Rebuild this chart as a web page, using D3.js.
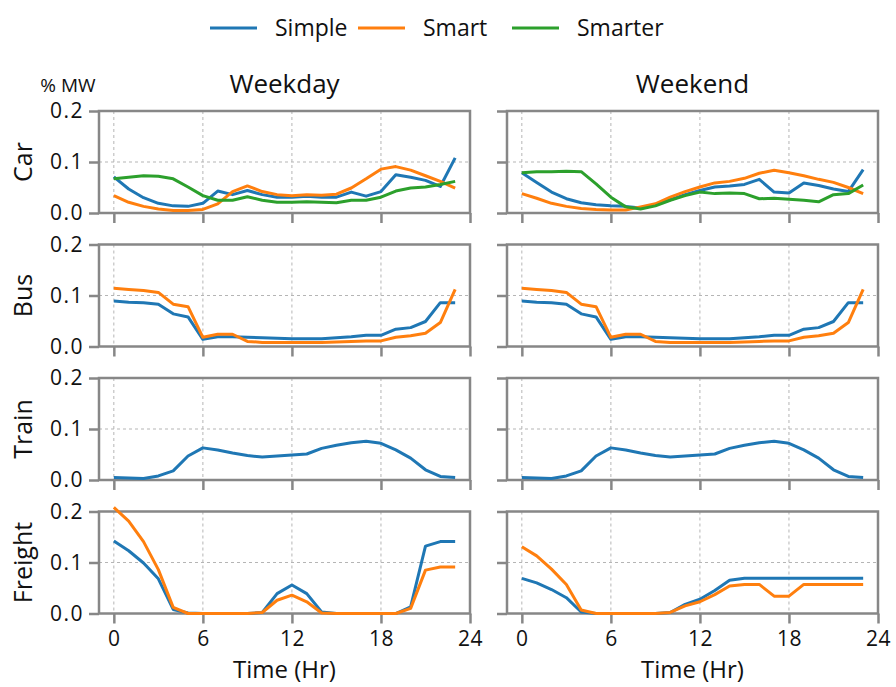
<!DOCTYPE html>
<html>
<head>
<meta charset="utf-8">
<script src="https://cdn.jsdelivr.net/npm/d3@7"></script>
<style>
    body { margin: 0; background: #fff; }
    svg { font-family: "Open Sans", "Noto Sans", sans-serif; }
</style>
</head>
<body>
<svg id="chart" width="896" height="687"></svg>
<script>
// Hours of the day
const hours = d3.range(0, 24);

const seriesNames = ['Simple', 'Smart', 'Smarter'];
const seriesColors = ['#1f77b4', '#ff7f0e', '#2ca02c'];
const dayTypes = ['Weekday', 'Weekend'];
const modes = ['Car', 'Bus', 'Train', 'Freight'];
const xTicks = [0, 6, 12, 18, 24];
const yTicks = [0.0, 0.1, 0.2];

// Car
const carWeekdaySimple = [0.071, 0.047, 0.030, 0.019, 0.014, 0.013, 0.019, 0.043, 0.036, 0.044, 0.036, 0.031,
    0.031, 0.033, 0.031, 0.031, 0.041, 0.033, 0.042, 0.075, 0.070, 0.064, 0.052, 0.108];
const carWeekdaySmart = [0.034, 0.021, 0.013, 0.008, 0.005, 0.005, 0.007, 0.018, 0.042, 0.053, 0.042, 0.036,
    0.034, 0.036, 0.035, 0.037, 0.049, 0.067, 0.086, 0.091, 0.084, 0.073, 0.062, 0.049];
const carWeekdaySmarter = [0.067, 0.070, 0.073, 0.072, 0.067, 0.051, 0.034, 0.025, 0.025, 0.032, 0.025, 0.021,
    0.021, 0.022, 0.021, 0.020, 0.025, 0.025, 0.031, 0.043, 0.049, 0.051, 0.056, 0.062];
const carWeekendSimple = [0.079, 0.060, 0.041, 0.028, 0.020, 0.016, 0.014, 0.013, 0.010, 0.016, 0.026, 0.036,
    0.044, 0.051, 0.053, 0.056, 0.066, 0.041, 0.039, 0.059, 0.054, 0.047, 0.042, 0.085];
const carWeekendSmart = [0.038, 0.029, 0.019, 0.013, 0.009, 0.007, 0.006, 0.006, 0.012, 0.018, 0.031, 0.042,
    0.051, 0.059, 0.062, 0.068, 0.078, 0.084, 0.079, 0.073, 0.066, 0.060, 0.050, 0.038];
const carWeekendSmarter = [0.079, 0.081, 0.081, 0.082, 0.081, 0.057, 0.031, 0.012, 0.008, 0.014, 0.025, 0.034,
    0.041, 0.038, 0.039, 0.038, 0.028, 0.029, 0.027, 0.025, 0.022, 0.036, 0.038, 0.055];

// Bus (weekday and weekend profiles are the same)
const busSimple = [0.089, 0.087, 0.086, 0.083, 0.064, 0.058, 0.014, 0.019, 0.019, 0.018, 0.017, 0.016,
    0.015, 0.015, 0.015, 0.017, 0.019, 0.022, 0.022, 0.034, 0.037, 0.049, 0.086, 0.086];
const busSmart = [0.114, 0.112, 0.110, 0.106, 0.083, 0.078, 0.018, 0.024, 0.024, 0.010, 0.008, 0.008,
    0.008, 0.008, 0.008, 0.009, 0.010, 0.011, 0.011, 0.018, 0.021, 0.026, 0.047, 0.112];

// Train (same for both day types)
const trainSimple = [0.005, 0.004, 0.003, 0.008, 0.018, 0.047, 0.063, 0.059, 0.053, 0.048, 0.045, 0.047,
    0.049, 0.051, 0.062, 0.068, 0.073, 0.076, 0.072, 0.059, 0.043, 0.020, 0.007, 0.005];

// Freight
const freightWeekdaySimple = [0.142, 0.123, 0.099, 0.068, 0.008, 0.001, 0, 0, 0, 0, 0.002, 0.039,
    0.056, 0.039, 0.003, 0, 0, 0, 0, 0, 0.013, 0.132, 0.141, 0.141];
const freightWeekdaySmart = [0.208, 0.181, 0.141, 0.086, 0.012, 0, 0, 0, 0, 0, 0.002, 0.026,
    0.036, 0.023, 0.001, 0, 0, 0, 0, 0, 0.010, 0.085, 0.091, 0.091];
const freightWeekendSimple = [0.069, 0.060, 0.047, 0.031, 0.003, 0, 0, 0, 0, 0, 0.002, 0.018,
    0.028, 0.045, 0.065, 0.069, 0.069, 0.069, 0.069, 0.069, 0.069, 0.069, 0.069, 0.069];
const freightWeekendSmart = [0.131, 0.113, 0.087, 0.057, 0.007, 0, 0, 0, 0, 0, 0.002, 0.015,
    0.023, 0.037, 0.054, 0.057, 0.057, 0.034, 0.034, 0.057, 0.057, 0.057, 0.057, 0.057];

// panel lookup: mode -> day type -> list of series (index into seriesNames)
const panels = {
    Car: {
        Weekday: [carWeekdaySimple, carWeekdaySmart, carWeekdaySmarter],
        Weekend: [carWeekendSimple, carWeekendSmart, carWeekendSmarter]
    },
    Bus: {
        Weekday: [busSimple, busSmart],
        Weekend: [busSimple, busSmart]
    },
    Train: {
        Weekday: [trainSimple],
        Weekend: [trainSimple]
    },
    Freight: {
        Weekday: [freightWeekdaySimple, freightWeekdaySmart],
        Weekend: [freightWeekendSimple, freightWeekendSmart]
    }
};

const svg = d3.select('#chart');

const spineColor = '#878787';
const gridColor = '#b5b5b5';
const colLeft = [99, 507];
const colWidth = 371;
const rowTop = [111, 244.5, 378, 511.5];
const rowHeight = 102;

// Legend
const legendX = [210, 358, 512];
const legend = svg.append('g').attr('class', 'legend');
seriesNames.forEach((name, i) => {
    legend.append('line')
        .attr('x1', legendX[i]).attr('x2', legendX[i] + 47)
        .attr('y1', 28).attr('y2', 28)
        .attr('stroke', seriesColors[i])
        .attr('stroke-width', 3);
    legend.append('text')
        .attr('x', legendX[i] + 65)
        .attr('y', 36)
        .attr('font-size', 23)
        .attr('fill', '#111')
        .text(name);
});

// unit label
svg.append('text')
    .attr('x', 68)
    .attr('y', 92)
    .attr('text-anchor', 'middle')
    .attr('font-size', 19)
    .attr('fill', '#111')
    .text('% MW');

dayTypes.forEach((day, c) => {
    const x = d3.scaleLinear()
        .domain([-1, 24])
        .range([colLeft[c], colLeft[c] + colWidth]);

    // column title
    svg.append('text')
        .attr('x', x(11.5))
        .attr('y', 93)
        .attr('text-anchor', 'middle')
        .attr('font-size', 26)
        .attr('fill', '#111')
        .text(day);

    modes.forEach((mode, r) => {
        const y = d3.scaleLinear()
            .domain([0, 0.2])
            .range([rowTop[r] + rowHeight, rowTop[r]]);

        const g = svg.append('g').attr('class', `panel ${mode}-${day}`);

        // Grid
        g.append('g')
            .selectAll('line')
            .data(xTicks.filter(t => t < 24))
            .join('line')
            .attr('x1', d => x(d)).attr('x2', d => x(d))
            .attr('y1', y(0.2)).attr('y2', y(0))
            .attr('stroke', gridColor)
            .attr('stroke-width', 1)
            .attr('stroke-dasharray', '3,3');

        g.append('g')
            .selectAll('line')
            .data([0.1])
            .join('line')
            .attr('x1', x(-1)).attr('x2', x(24))
            .attr('y1', d => y(d)).attr('y2', d => y(d))
            .attr('stroke', gridColor)
            .attr('stroke-width', 1)
            .attr('stroke-dasharray', '3,3');

        // Axes
        const yAxis = d3.axisLeft(y)
            .tickValues(yTicks)
            .tickSize(10)
            .tickPadding(5)
            .tickFormat(c === 0 ? d3.format('.1f') : () => '');

        const yg = g.append('g')
            .attr('transform', `translate(${x(-1)},0)`)
            .call(yAxis);

        const xAxis = d3.axisBottom(x)
            .tickValues(xTicks)
            .tickSize(10)
            .tickPadding(8)
            .tickFormat(r === modes.length - 1 ? d3.format('d') : () => '');

        const xg = g.append('g')
            .attr('transform', `translate(0,${y(0)})`)
            .call(xAxis);

        [yg, xg].forEach(ax => {
            ax.select('.domain').remove();
            ax.selectAll('.tick line')
                .attr('stroke', spineColor)
                .attr('stroke-width', 2.5);
            ax.selectAll('.tick text')
                .attr('font-family', '"Open Sans", sans-serif')
                .attr('font-size', 21)
                .attr('letter-spacing', 1.5)
                .attr('fill', '#111');
        });
        xg.selectAll('.tick text').attr('letter-spacing', 0.5);

        // Frame
        g.append('rect')
            .attr('x', x(-1))
            .attr('y', y(0.2))
            .attr('width', x(24) - x(-1))
            .attr('height', y(0) - y(0.2))
            .attr('fill', 'none')
            .attr('stroke', spineColor)
            .attr('stroke-width', 2.5);

        // Lines
        const line = d3.line()
            .x((d, i) => x(hours[i]))
            .y(d => y(d));

        panels[mode][day].forEach((values, s) => {
            g.append('path')
                .datum(values)
                .attr('d', line)
                .attr('fill', 'none')
                .attr('stroke', seriesColors[s])
                .attr('stroke-width', 3)
                .attr('stroke-linejoin', 'round');
        });

        // row label
        if (c === 0) {
            svg.append('text')
                .attr('transform', `translate(32,${rowTop[r] + rowHeight / 2}) rotate(-90)`)
                .attr('text-anchor', 'middle')
                .attr('font-size', 25)
                .attr('fill', '#111')
                .text(mode);
        }

        // x axis title
        if (r === modes.length - 1) {
            svg.append('text')
                .attr('x', x(11.5))
                .attr('y', 678)
                .attr('text-anchor', 'middle')
                .attr('font-size', 24)
                .attr('fill', '#111')
                .text('Time (Hr)');
        }
    });
});
</script>
</body>
</html>
